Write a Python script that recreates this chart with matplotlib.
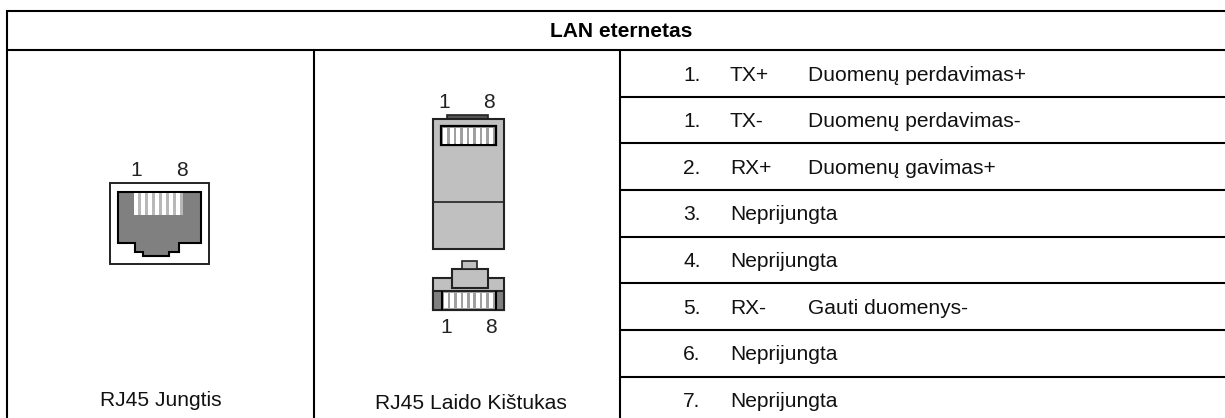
import matplotlib
matplotlib.use("Agg")
import matplotlib.pyplot as plt
from matplotlib.patches import Rectangle, Polygon

plt.rcParams['font.family'] = ['Liberation Sans', 'DejaVu Sans']

title = "LAN eternetas"
captions = ["RJ45 Jungtis", "RJ45 Laido Kištukas"]
pin_numbers = ["1.", "1.", "2.", "3.", "4.", "5.", "6.", "7."]
signals = ["TX+", "TX-", "RX+", "Neprijungta", "Neprijungta", "RX-", "Neprijungta", "Neprijungta"]
descriptions = ["Duomenų perdavimas+", "Duomenų perdavimas-", "Duomenų gavimas+", "", "", "Gauti duomenys-", "", ""]
row_lines = [50, 97, 143, 190, 237, 283, 330, 377]
row_baselines = [81, 127, 174, 220, 267, 314, 360, 407]

fig = plt.figure(figsize=(12.25, 4.18), dpi=100)
ax = fig.add_axes([0, 0, 1, 1])
ax.set_xlim(0, 1225)
ax.set_ylim(418, 0)
ax.axis('off')

FS = 15.1
LW = 1.5
DARK = '#808080'
LIGHT = '#c0c0c0'
EDGE = '#222222'

# table lines
ax.plot([7, 1225], [11, 11], color='k', lw=LW, solid_capstyle='butt')
ax.plot([7, 1225], [50, 50], color='k', lw=LW, solid_capstyle='butt')
for y in row_lines[1:]:
    ax.plot([620, 1225], [y, y], color='k', lw=LW, solid_capstyle='butt')
for x, top in [(7, 10), (314, 50), (620, 50)]:
    ax.plot([x, x], [top, 418], color='k', lw=LW, solid_capstyle='butt')

# texts
ax.text(621, 37, title, ha='center', va='baseline', fontsize=FS, fontweight='bold', color='k')
ax.text(161, 406, captions[0], ha='center', va='baseline', fontsize=FS, color='#111111')
ax.text(470.5, 409, captions[1], ha='center', va='baseline', fontsize=FS, color='#111111')
for y, num, sig, desc in zip(row_baselines, pin_numbers, signals, descriptions):
    ax.text(683, y, num, ha='left', va='baseline', fontsize=FS, color='#111111')
    ax.text(730, y, sig, ha='left', va='baseline', fontsize=FS, color='#111111')
    ax.text(808, y, desc, ha='left', va='baseline', fontsize=FS, color='#111111')


def box(x0, y0, x1, y1, fc, ec=EDGE, lw=1.2, z=2):
    ax.add_patch(Rectangle((x0, y0), x1 - x0, y1 - y0, fc=fc, ec=ec, lw=lw, zorder=z))


def stripes(x0, x1, y0, y1, n, z=4):
    w = (x1 - x0) / n
    for i in range(n):
        ax.add_patch(Rectangle((x0 + i * w, y0), w * 0.62, y1 - y0, fc='white', ec='none', zorder=z))


# jack
box(110, 183, 209, 264, 'white', lw=1.4)
ax.add_patch(Polygon([(118, 192), (201, 192), (201, 243), (179, 243), (179, 252), (169, 252), (169, 256),
                      (143, 256), (143, 252), (135, 252), (135, 243), (118, 243)],
                     closed=True, fc=DARK, ec='k', lw=1.5, zorder=3))
ax.add_patch(Rectangle((134, 193), 49, 22, fc='#b8b8b8', ec='none', zorder=4))
stripes(134, 183, 193, 215, 7, z=5)
ax.text(136, 176, "1", ha='center', va='baseline', fontsize=FS, color='#222222')
ax.text(182, 176, "8", ha='center', va='baseline', fontsize=FS, color='#222222')

# plug, front
box(447, 115, 488, 120, '#555555')
box(433, 119, 504, 249, LIGHT, lw=1.5)
ax.plot([433, 504], [202, 202], color=EDGE, lw=1.2, zorder=3)
box(441, 126, 496, 145, '#a0a0a0', ec='k', lw=1.6, z=3)
stripes(443, 495, 128, 144, 8)
ax.text(444, 108, "1", ha='center', va='baseline', fontsize=FS, color='#222222')
ax.text(489, 108, "8", ha='center', va='baseline', fontsize=FS, color='#222222')

# plug, end view
box(433, 278, 504, 310, LIGHT, lw=1.5)
box(452, 269, 488, 288, LIGHT, lw=1.5, z=3)
box(462, 261, 477, 269, LIGHT, z=3)
box(433, 291, 504, 310, DARK, lw=1.5, z=3)
ax.add_patch(Rectangle((442, 292), 54, 17, fc='#a0a0a0', ec='none', zorder=4))
stripes(444, 495, 293, 308, 8, z=5)
ax.plot([442, 442], [292, 309], color='k', lw=1.5, zorder=6)
ax.plot([496, 496], [292, 309], color='k', lw=1.5, zorder=6)
ax.text(446, 333, "1", ha='center', va='baseline', fontsize=FS, color='#222222')
ax.text(491, 333, "8", ha='center', va='baseline', fontsize=FS, color='#222222')

fig.savefig('out.png', dpi=100)
